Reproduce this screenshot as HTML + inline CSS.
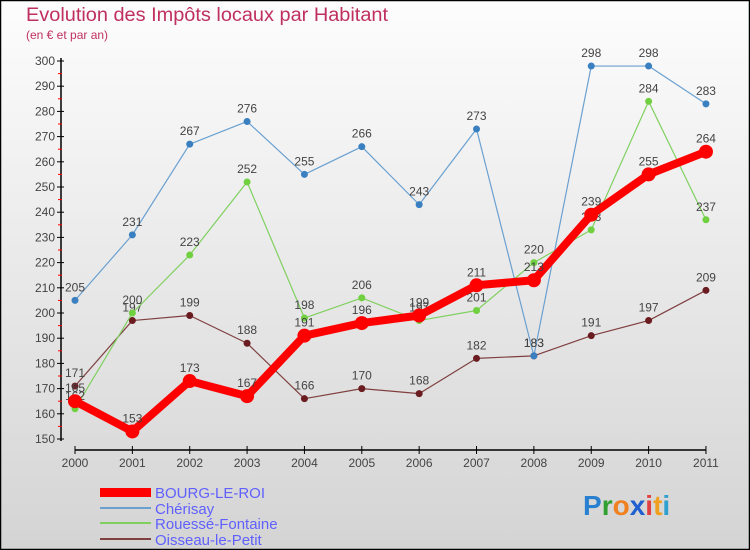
<!DOCTYPE html>
<html><head><meta charset="utf-8"><style>
body{margin:0;width:750px;height:550px;overflow:hidden;font-family:"Liberation Sans",sans-serif}
</style></head><body>
<svg width="750" height="550" xmlns="http://www.w3.org/2000/svg" style="display:block">
<defs><linearGradient id="bg" x1="0" y1="0" x2="0" y2="1"><stop offset="0" stop-color="#fdfdfd"/><stop offset="1" stop-color="#d4d4d4"/></linearGradient></defs>
<rect x="0.5" y="0.5" width="749" height="549" fill="url(#bg)" stroke="#000" stroke-width="1.5"/>
<text x="26" y="21" font-size="19" fill="#c0305f" textLength="362" lengthAdjust="spacingAndGlyphs">Evolution des Impôts locaux par Habitant</text>
<text x="26" y="39" font-size="12" fill="#c0305f">(en € et par an)</text>
<g id="axes"></g><g id="series"></g>
<g font-size="15" fill="#6060ff">
<rect x="100" y="488" width="51" height="9" fill="#f00"/><text x="155" y="498">BOURG-LE-ROI</text>
<line x1="100" y1="508" x2="151" y2="508" stroke="#6aa0d0" stroke-width="2"/><text x="155" y="514">Chérisay</text>
<line x1="100" y1="523" x2="151" y2="523" stroke="#80d060" stroke-width="2"/><text x="155" y="529">Rouessé-Fontaine</text>
<line x1="100" y1="539" x2="151" y2="539" stroke="#804040" stroke-width="2"/><text x="155" y="545">Oisseau-le-Petit</text>
</g>
<text x="583" y="515" font-size="28" font-weight="bold"><tspan fill="#2a80d0">P</tspan><tspan fill="#30a030">r</tspan><tspan fill="#f08020">o</tspan><tspan fill="#2060d0">x</tspan><tspan fill="#e04040">i</tspan><tspan fill="#f0a020">t</tspan><tspan fill="#30a0d0">i</tspan></text>
</svg>
<script>
const years=["2000","2001","2002","2003","2004","2005","2006","2007","2008","2009","2010","2011"];
const yTicks=[150,160,170,180,190,200,210,220,230,240,250,260,270,280,290,300];
const bourg=[165,153,173,167,191,196,199,211,213,239,255,264];
const cherisay=[205,231,267,276,255,266,243,273,183,298,298,283];
const rouesse=[162,200,223,252,198,206,197,201,220,233,284,237];
const oisseau=[171,197,199,188,166,170,168,182,183,191,197,209];
const NS="http://www.w3.org/2000/svg";
const X=i=>75+i*57.36, Y=v=>439-(v-150)*2.52;
function mk(t,a,p){const e=document.createElementNS(NS,t);for(const k in a)e.setAttribute(k,a[k]);p.appendChild(e);return e;}
const ax=document.getElementById('axes');
mk('line',{x1:61,y1:58,x2:61,y2:441,stroke:'#000','stroke-width':1.5},ax);
mk('line',{x1:75,y1:450,x2:706,y2:450,stroke:'#000','stroke-width':1.5},ax);
yTicks.forEach(v=>{
 mk('line',{x1:57,y1:Y(v),x2:64,y2:Y(v),stroke:'#000'},ax);
 if(v<300) mk('line',{x1:58,y1:Y(v+5),x2:62,y2:Y(v+5),stroke:'#f00'},ax);
 const t=mk('text',{x:55,y:Y(v)+4,'text-anchor':'end','font-size':12,fill:'#444'},ax);t.textContent=v;
 
 
});
years.forEach((y,i)=>{
 mk('line',{x1:X(i),y1:446,x2:X(i),y2:454,stroke:'#000'},ax);
 const t=mk('text',{x:X(i),y:467,'text-anchor':'middle','font-size':12,fill:'#444'},ax);t.textContent=y;
 
 
});
const sg=document.getElementById('series');
function series(d,col,dot,w,r,name){
 const g=mk('g',{},sg);
 
 
 mk('polyline',{points:d.map((v,i)=>X(i)+','+Y(v)).join(' '),fill:'none',stroke:col,'stroke-width':w,'stroke-linejoin':'round'},g);
 d.forEach((v,i)=>{
  const c=mk('circle',{cx:X(i),cy:Y(v),r:r,fill:dot},g);
  
  
  const t=mk('text',{x:X(i),y:Y(v)-9,'text-anchor':'middle','font-size':12,fill:'#444'},g);t.textContent=v;
  
  
 });
}
series(oisseau,'#804040','#6a1c20',1.2,3.5,'series-oisseau');
series(rouesse,'#80d060','#70d040',1.2,3.5,'series-rouesse');
series(cherisay,'#6aa0d0','#3a80c0',1.2,3.5,'series-cherisay');
series(bourg,'#f00','#f00',8,7,'series-bourg');
</script>
</body></html>
